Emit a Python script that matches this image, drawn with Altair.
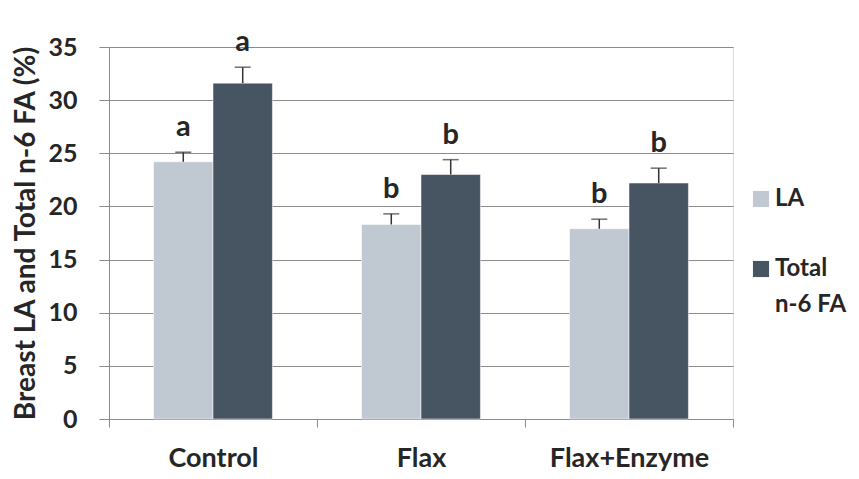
import altair as alt
import pandas as pd

groups = ["Control", "Flax", "Flax+Enzyme"]
series = ["LA", "Total n-6 FA"]
la_vals = [24.2, 18.3, 17.9]
la_err = [0.9, 1.0, 0.9]
tot_vals = [31.6, 23.0, 22.2]
tot_err = [1.5, 1.4, 1.4]
la_letters = ["a", "b", "b"]
tot_letters = ["a", "b", "b"]

rows = []
for i, g in enumerate(groups):
    rows.append({"group": g, "series": series[0], "value": la_vals[i],
                 "hi": la_vals[i] + la_err[i], "letter": la_letters[i]})
    rows.append({"group": g, "series": series[1], "value": tot_vals[i],
                 "hi": tot_vals[i] + tot_err[i], "letter": tot_letters[i]})
df = pd.DataFrame(rows)

FONT = "Lato"
TXT = "#262626"
GRID = "#8c8c8c"

x = alt.X("group:N", sort=groups,
          scale=alt.Scale(paddingInner=0, paddingOuter=0),
          axis=alt.Axis(title=None, labelAngle=0, labelFontSize=27, labelFont=FONT,
                        labelFontWeight="bold", labelColor=TXT, labelPadding=18,
                        tickBand="extent", tickSize=8, tickColor=GRID,
                        domainColor=GRID, grid=False))
xoff = alt.XOffset("series:N", sort=series,
                   scale=alt.Scale(paddingInner=0, paddingOuter=0.75))

base = alt.Chart(df).encode(x=x, xOffset=xoff)

bars = base.mark_bar(stroke="white", strokeWidth=0.5).encode(
    y=alt.Y("value:Q", scale=alt.Scale(domain=[0, 35]),
            axis=alt.Axis(title="Breast LA and Total n-6 FA (%)", values=[0, 5, 10, 15, 20, 25, 30, 35],
                          titleFontSize=28, titleFont=FONT, titleFontWeight="bold",
                          titleColor=TXT, titlePadding=7,
                          labelFontSize=25, labelFont=FONT, labelFontWeight="bold",
                          labelColor=TXT, labelPadding=22, tickSize=10,
                          tickColor=GRID, domainColor=GRID,
                          gridColor=GRID, gridWidth=1)),
    color=alt.Color("series:N", sort=series,
                    scale=alt.Scale(domain=series, range=["#c0c8d2", "#475563"]),
                    legend=alt.Legend(title=None, orient="none", legendX=640, legendY=140,
                                      symbolType="square", symbolSize=260,
                                      symbolStrokeWidth=0, rowPadding=46,
                                      labelFontSize=24, labelFont=FONT,
                                      labelFontWeight="bold", labelColor=TXT,
                                      labelLimit=200,
                                      labelExpr="datum.label == 'Total n-6 FA' ? ['Total', 'n-6 FA'] : datum.label",
                                      labelBaseline="middle", labelOffset=2)),
)

rules = base.mark_rule(color="#333333", strokeWidth=1.5).encode(
    y="value:Q", y2="hi:Q")
caps = base.mark_tick(color="#333333", thickness=1.5, size=16, orient="horizontal").encode(
    y="hi:Q")
letters = base.mark_text(font=FONT, fontSize=29, fontWeight="bold", color=TXT,
                         baseline="alphabetic", dy=-16).encode(
    y="hi:Q", text="letter:N")

chart = alt.layer(bars, rules, caps, letters).properties(
    width=624, height=372, padding={"left": 4, "top": 20, "right": 0, "bottom": 0}
).configure_view(stroke=None).configure(style={"guide-label": {"lineHeight": 36}})

chart.save("out.html", embed_options={"renderer": "svg", "actions": False})
